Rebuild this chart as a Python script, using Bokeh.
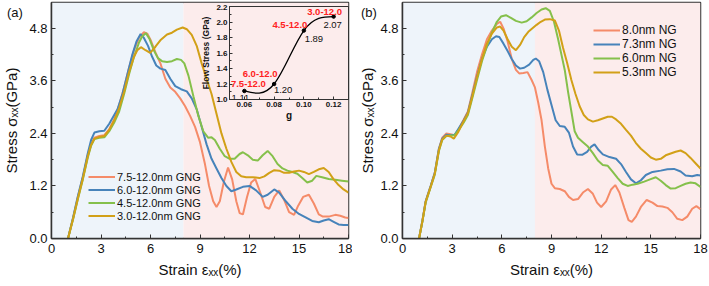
import numpy as np
from bokeh.plotting import figure
from bokeh.models import (Range1d, FixedTicker, PrintfTickFormatter, BoxAnnotation,
                          Label, Legend, LegendItem, Div)
from bokeh.layouts import row
from bokeh.embed import file_html
from bokeh.resources import INLINE

FONT = "Liberation Sans"

# ---------------- data: panel (a) ----------------
A_LABELS = ["7.5-12.0nm GNG", "6.0-12.0nm GNG", "4.5-12.0nm GNG", "3.0-12.0nm GNG"]

A_X_75 = [1.0, 1.3, 1.6, 1.9, 2.2, 2.4, 2.6, 2.9, 3.2, 3.5, 3.8, 4.1, 4.4, 4.7, 5.0, 5.3, 5.6, 5.8, 6.0, 6.3,
          6.6, 6.9, 7.2, 7.5, 7.8, 8.1, 8.4, 8.7, 9.0, 9.3, 9.55, 9.8, 10.0, 10.2, 10.45, 10.7, 10.95, 11.2,
          11.4, 11.6, 11.85, 12.1, 12.35, 12.65, 12.95, 13.2, 13.5, 13.8, 14.1, 14.4, 14.7, 14.95, 15.25,
          15.6, 15.9, 16.2, 16.45, 16.8, 17.2, 17.5, 17.8, 18.0]
A_Y_75 = [0.0, 0.45, 0.95, 1.4, 1.9, 2.15, 2.3, 2.34, 2.36, 2.5, 2.72, 3.05, 3.45, 3.9, 4.3, 4.58, 4.71, 4.68,
          4.54, 4.25, 4.0, 3.65, 3.45, 3.35, 3.2, 3.02, 2.8, 2.55, 2.2, 1.7, 1.2, 0.85, 0.72, 0.85, 1.3, 1.62,
          1.35, 0.85, 0.58, 0.55, 0.95, 1.28, 1.36, 1.05, 0.72, 0.68, 0.95, 1.1, 0.88, 0.6, 0.54, 0.75, 0.95,
          1.0, 0.8, 0.55, 0.5, 0.5, 0.54, 0.52, 0.48, 0.47]

A_X_60 = [1.0, 1.3, 1.6, 1.9, 2.2, 2.4, 2.6, 2.9, 3.2, 3.5, 3.8, 4.0, 4.3, 4.6, 4.9, 5.15, 5.4, 5.6, 5.85,
          6.1, 6.35, 6.6, 6.9, 7.2, 7.5, 7.85, 8.2, 8.5, 8.8, 9.1, 9.4, 9.7, 10.0, 10.3, 10.6, 10.9, 11.2,
          11.6, 12.0, 12.4, 12.8, 13.1, 13.5, 13.8, 14.2, 14.6, 15.0, 15.4, 15.8, 16.2, 16.5, 16.8, 17.1,
          17.4, 17.7, 18.0]
A_Y_60 = [0.0, 0.47, 0.97, 1.42, 1.95, 2.25, 2.42, 2.45, 2.46, 2.62, 2.82, 2.95, 3.3, 3.75, 4.2, 4.5, 4.67,
          4.58, 4.4, 4.15, 3.95, 3.88, 3.85, 3.65, 3.48, 3.41, 3.36, 3.2, 2.95, 2.55, 2.15, 1.82, 1.6, 1.38,
          1.2, 1.08, 1.12, 1.18, 1.2, 1.1, 0.95, 1.0, 1.12, 1.05, 0.85, 0.68, 0.56, 0.48, 0.4, 0.37, 0.41,
          0.44, 0.38, 0.32, 0.31, 0.31]

A_X_45 = [1.0, 1.3, 1.6, 1.9, 2.2, 2.4, 2.6, 2.9, 3.2, 3.5, 3.8, 4.1, 4.4, 4.7, 5.0, 5.3, 5.5, 5.72, 5.95,
          6.2, 6.45, 6.7, 7.0, 7.3, 7.6, 7.85, 8.05, 8.3, 8.6, 8.9, 9.2, 9.5, 9.7, 9.9, 10.2, 10.5, 10.8,
          11.1, 11.4, 11.6, 11.9, 12.2, 12.5, 12.8, 13.1, 13.4, 13.7, 14.0, 14.3, 14.6, 14.9, 15.2, 15.5,
          15.8, 16.05, 16.4, 16.8, 17.2, 17.6, 18.0]
A_Y_45 = [0.0, 0.43, 0.9, 1.35, 1.85, 2.12, 2.27, 2.3, 2.31, 2.45, 2.65, 2.9, 3.3, 3.75, 4.15, 4.47, 4.62,
          4.69, 4.55, 4.3, 4.12, 4.05, 4.03, 4.05, 4.1, 4.08, 4.0, 3.72, 3.25, 2.8, 2.45, 2.3, 2.31, 2.25,
          2.05, 1.88, 1.82, 1.82, 1.93, 1.97, 1.9, 1.8, 1.78, 1.9, 2.0, 1.88, 1.7, 1.6, 1.55, 1.52, 1.48,
          1.38, 1.28, 1.32, 1.43, 1.4, 1.36, 1.34, 1.32, 1.3]

A_X_30 = [1.0, 1.3, 1.6, 1.9, 2.2, 2.4, 2.6, 2.9, 3.2, 3.5, 3.8, 4.1, 4.4, 4.7, 5.0, 5.2, 5.42, 5.7, 5.98,
          6.3, 6.63, 7.0, 7.3, 7.6, 7.95, 8.2, 8.5, 8.8, 9.1, 9.4, 9.7, 10.0, 10.3, 10.6, 10.9, 11.2, 11.5,
          11.8, 12.2, 12.6, 12.9, 13.2, 13.5, 13.8, 14.1, 14.4, 14.7, 15.0, 15.3, 15.6, 15.9, 16.2, 16.5,
          16.8, 17.1, 17.4, 17.7, 18.0]
A_Y_30 = [0.0, 0.44, 0.92, 1.37, 1.88, 2.14, 2.28, 2.32, 2.34, 2.48, 2.7, 2.98, 3.35, 3.8, 4.15, 4.3, 4.37,
          4.3, 4.24, 4.38, 4.54, 4.66, 4.7, 4.77, 4.82, 4.78, 4.65, 4.4, 4.0, 3.65, 3.3, 2.85, 2.4, 2.05,
          1.75, 1.52, 1.42, 1.4, 1.4, 1.38, 1.42, 1.5, 1.56, 1.55, 1.5, 1.5, 1.53, 1.55, 1.52, 1.47, 1.52,
          1.58, 1.61, 1.52, 1.35, 1.22, 1.12, 1.05]

# ---------------- data: panel (b) ----------------
B_LABELS = ["8.0nm NG", "7.3nm NG", "6.0nm NG", "5.3nm NG"]

B_X_80 = [1.0, 1.2, 1.4, 1.7, 1.95, 2.2, 2.4, 2.65, 2.9, 3.15, 3.4, 3.7, 3.95, 4.2, 4.5, 4.8, 5.1, 5.4, 5.7,
          5.9, 6.1, 6.35, 6.6, 6.85, 7.05, 7.3, 7.55, 7.8, 8.0, 8.2, 8.4, 8.6, 8.8, 9.0, 9.2, 9.5, 9.8, 10.05,
          10.3, 10.6, 10.9, 11.2, 11.5, 11.75, 12.0, 12.3, 12.6, 12.85, 13.1, 13.4, 13.65, 13.85, 14.1, 14.4,
          14.75, 15.1, 15.4, 15.7, 16.0, 16.3, 16.6, 16.9, 17.2, 17.5, 17.75, 18.0]
B_Y_80 = [0.0, 0.4, 0.85, 1.2, 1.5, 2.05, 2.3, 2.4, 2.38, 2.36, 2.5, 2.72, 2.9, 3.3, 3.8, 4.2, 4.55, 4.75,
          4.9, 4.95, 4.8, 4.5, 4.1, 3.85, 3.77, 3.78, 3.8, 3.62, 3.45, 3.1, 2.7, 2.1, 1.6, 1.25, 1.15, 1.13,
          1.08, 0.95, 0.88, 0.9, 1.05, 1.13, 1.02, 0.82, 0.72, 0.85, 1.12, 1.22, 1.05, 0.7, 0.42, 0.38, 0.5,
          0.72, 0.88, 0.82, 0.74, 0.73, 0.7, 0.6, 0.45, 0.42, 0.5, 0.68, 0.74, 0.67]

B_X_73 = [1.0, 1.2, 1.4, 1.7, 1.95, 2.2, 2.4, 2.65, 2.9, 3.15, 3.4, 3.7, 3.95, 4.2, 4.5, 4.8, 5.1, 5.4, 5.65,
          5.85, 6.1, 6.35, 6.6, 6.85, 7.1, 7.35, 7.65, 7.9, 8.05, 8.25, 8.5, 8.75, 9.0, 9.25, 9.5, 9.8, 10.05,
          10.3, 10.55, 10.85, 11.15, 11.4, 11.6, 11.85, 12.1, 12.5, 12.9, 13.2, 13.5, 13.8, 14.1, 14.4, 14.7,
          15.1, 15.6, 16.0, 16.4, 16.8, 17.1, 17.5, 17.8, 18.0]
B_Y_73 = [0.0, 0.4, 0.85, 1.2, 1.5, 2.05, 2.28, 2.37, 2.36, 2.37, 2.52, 2.7, 2.88, 3.25, 3.7, 4.1, 4.38,
          4.55, 4.62, 4.6, 4.45, 4.28, 4.1, 3.95, 3.88, 3.9, 3.97, 4.08, 4.11, 4.05, 3.8, 3.4, 3.05, 2.7,
          2.57, 2.55, 2.42, 2.1, 1.92, 1.91, 1.98, 2.1, 2.15, 2.02, 1.92, 1.86, 1.82, 1.7, 1.52, 1.35, 1.26,
          1.33, 1.45, 1.52, 1.55, 1.58, 1.59, 1.53, 1.44, 1.42, 1.45, 1.44]

B_X_60 = [1.0, 1.2, 1.4, 1.7, 1.95, 2.2, 2.4, 2.65, 2.9, 3.15, 3.4, 3.7, 3.95, 4.2, 4.5, 4.8, 5.1, 5.4, 5.7,
          5.95, 6.25, 6.55, 6.85, 7.2, 7.5, 7.8, 8.1, 8.4, 8.65, 8.9, 9.15, 9.4, 9.6, 9.8, 10.0, 10.2, 10.4,
          10.6, 10.9, 11.2, 11.5, 11.8, 12.1, 12.4, 12.7, 13.0, 13.3, 13.6, 13.9, 14.2, 14.6, 14.95, 15.3,
          15.6, 15.9, 16.2, 16.5, 16.8, 17.1, 17.4, 17.7, 18.0]
B_Y_60 = [0.0, 0.38, 0.82, 1.17, 1.46, 2.0, 2.25, 2.34, 2.35, 2.36, 2.48, 2.65, 2.82, 3.18, 3.62, 4.05,
          4.4, 4.7, 4.95, 5.07, 5.1, 5.04, 4.97, 4.93, 4.96, 5.05, 5.15, 5.23, 5.26, 5.2, 4.95, 4.55, 4.2,
          3.85, 3.35, 2.9, 2.45, 2.3, 2.2, 2.1, 1.95, 1.78, 1.68, 1.66, 1.52, 1.38, 1.25, 1.2, 1.23, 1.25,
          1.3, 1.35, 1.4, 1.32, 1.22, 1.14, 1.15, 1.2, 1.25, 1.28, 1.26, 1.18]

B_X_53 = [1.0, 1.2, 1.4, 1.7, 1.95, 2.2, 2.4, 2.65, 2.9, 3.1, 3.35, 3.65, 3.95, 4.2, 4.5, 4.8, 5.1, 5.4, 5.7,
          5.9, 6.1, 6.35, 6.6, 6.85, 7.1, 7.35, 7.6, 7.85, 8.1, 8.35, 8.6, 8.9, 9.2, 9.45, 9.7, 9.95, 10.2,
          10.45, 10.7, 10.95, 11.2, 11.5, 11.8, 12.1, 12.4, 12.65, 12.9, 13.2, 13.5, 13.8, 14.1, 14.4, 14.7,
          15.0, 15.3, 15.6, 15.9, 16.2, 16.5, 16.8, 17.1, 17.4, 17.7, 18.0]
B_Y_53 = [0.0, 0.39, 0.84, 1.18, 1.48, 2.02, 2.26, 2.35, 2.33, 2.28, 2.42, 2.65, 2.86, 3.22, 3.68, 4.1,
          4.45, 4.68, 4.82, 4.84, 4.75, 4.55, 4.38, 4.3, 4.42, 4.6, 4.72, 4.8, 4.88, 4.95, 5.0, 5.01, 4.98,
          4.75, 4.35, 4.0, 3.62, 3.3, 3.02, 2.82, 2.72, 2.67, 2.7, 2.74, 2.78, 2.78, 2.72, 2.62, 2.48, 2.35,
          2.18, 2.05, 1.95, 1.85, 1.8, 1.82, 1.9, 1.94, 1.98, 2.01, 1.95, 1.84, 1.72, 1.6]

# ---------------- data: inset ----------------
INSET_G = [0.06, 0.08, 0.10, 0.12]
INSET_FLOW = [1.11, 1.20, 1.89, 2.07]
INSET_NAMES = ["7.5-12.0", "6.0-12.0", "4.5-12.0", "3.0-12.0"]

# ---------------- axes / ticks ----------------
X_RANGE = (0, 18)
Y_RANGE = (0, 5.39)
X_TICKS = [0, 3, 6, 9, 12, 15, 18]
X_MINOR = [1.5, 4.5, 7.5, 10.5, 13.5, 16.5]
Y_TICKS = [0.0, 1.2, 2.4, 3.6, 4.8]
Y_MINOR = [0.6, 1.8, 3.0, 4.2]
REGION_SPLIT = 8
IN_X_RANGE = (0.05, 0.13)
IN_Y_RANGE = (1.0, 2.2)
IN_X_TICKS = [0.06, 0.08, 0.10, 0.12]
IN_X_MINOR = [0.05, 0.07, 0.09, 0.11, 0.13]
IN_Y_TICKS = [1.0, 1.2, 1.4, 1.6, 1.8, 2.0, 2.2]
IN_Y_MINOR = [1.1, 1.3, 1.5, 1.7, 1.9, 2.1]

COLORS = ["#F58B69", "#4783BA", "#85C04B", "#D2A017"]
BLUE_BG = "#EEF4FA"
PINK_BG = "#FCECEC"
AXIS_COLOR = "#333333"
FIG_H = 285


def style_axes(p, tick_font, label_font):
    p.xgrid.visible = False
    p.ygrid.visible = False
    p.outline_line_color = AXIS_COLOR
    p.outline_line_width = 1.5
    p.outline_line_alpha = 1.0
    for ax in (p.xaxis[0], p.yaxis[0]):
        ax.axis_line_color = AXIS_COLOR
        ax.axis_line_width = 1.5
        ax.major_tick_in = 4
        ax.major_tick_out = 0
        ax.minor_tick_in = 2
        ax.minor_tick_out = 0
        ax.major_tick_line_color = AXIS_COLOR
        ax.minor_tick_line_color = AXIS_COLOR
        ax.major_label_text_font = FONT
        ax.major_label_text_font_size = tick_font
        ax.major_label_text_color = "#111111"
        ax.axis_label_text_font = FONT
        ax.axis_label_text_font_size = label_font
        ax.axis_label_text_font_style = "normal"
        ax.axis_label_text_color = "#111111"


def main_panel(width, mb_left, mb_right, y_title_standoff, xs_list, ys_list, labels, legend_loc,
               legend_font, row_h):
    p = figure(width=width, height=FIG_H, x_range=Range1d(*X_RANGE), y_range=Range1d(*Y_RANGE),
               min_border_left=mb_left, min_border_right=mb_right, min_border_top=2,
               min_border_bottom=47, output_backend="svg", toolbar_location=None,
               background_fill_color="white", border_fill_color="white")
    p.add_layout(BoxAnnotation(right=REGION_SPLIT, fill_color=BLUE_BG, fill_alpha=1.0,
                               line_alpha=0, level="underlay"))
    p.add_layout(BoxAnnotation(left=REGION_SPLIT, fill_color=PINK_BG, fill_alpha=1.0,
                               line_alpha=0, level="underlay"))
    style_axes(p, "13px", "15px")
    p.xaxis.major_label_standoff = 5
    p.xaxis.axis_label_standoff = 5
    p.yaxis.major_label_standoff = 4
    p.yaxis.axis_label_standoff = y_title_standoff
    p.xaxis.ticker = FixedTicker(ticks=X_TICKS, minor_ticks=X_MINOR)
    p.yaxis.ticker = FixedTicker(ticks=Y_TICKS, minor_ticks=Y_MINOR)
    p.yaxis.formatter = PrintfTickFormatter(format="%.1f")
    p.xaxis.axis_label = "Strain \u03b5\u2093\u2093(%)"
    p.yaxis.axis_label = "Stress \u03c3\u2093\u2093(GPa)"
    items = []
    for xs, ys, c, lab in zip(xs_list, ys_list, COLORS, labels):
        r = p.line(xs, ys, line_color=c, line_width=2)
        items.append(LegendItem(label=lab, renderers=[r]))
    leg = Legend(items=items, location=legend_loc, label_text_font=FONT,
                 label_text_font_size=legend_font, glyph_width=27, glyph_height=row_h,
                 label_height=row_h, spacing=0, padding=0, margin=0, label_standoff=2,
                 background_fill_alpha=0, border_line_alpha=0, label_text_color="#111111")
    p.add_layout(leg)
    return p


p_a = main_panel(352, 51, 4, 6, [A_X_75, A_X_60, A_X_45, A_X_30], [A_Y_75, A_Y_60, A_Y_45, A_Y_30],
                 A_LABELS, (37, 16), "11px", 13)
p_b = main_panel(356, 50, 8, 1, [B_X_80, B_X_73, B_X_60, B_X_53], [B_Y_80, B_Y_73, B_Y_60, B_Y_53],
                 B_LABELS, (191, 159), "12px", 14)

# ---------------- inset ----------------
p_in = figure(frame_width=119, frame_height=93, x_range=Range1d(*IN_X_RANGE),
              y_range=Range1d(*IN_Y_RANGE),
              min_border_left=30, min_border_right=1, min_border_top=2, min_border_bottom=20,
              output_backend="svg", toolbar_location=None,
              background_fill_alpha=0, border_fill_alpha=0)
style_axes(p_in, "8px", "9px")
for ax in (p_in.xaxis[0], p_in.yaxis[0]):
    ax.major_label_text_font_style = "bold"
    ax.axis_label_text_font_style = "bold"
    ax.major_tick_in = 3
    ax.minor_tick_in = 2
    ax.axis_line_width = 1
    ax.major_label_standoff = 2
    ax.axis_label_standoff = 2
p_in.xaxis.major_label_standoff = 2
p_in.xaxis.axis_label_standoff = 0
p_in.outline_line_width = 1
p_in.xaxis.ticker = FixedTicker(ticks=IN_X_TICKS, minor_ticks=IN_X_MINOR)
p_in.yaxis.ticker = FixedTicker(ticks=IN_Y_TICKS, minor_ticks=IN_Y_MINOR)
p_in.xaxis.formatter = PrintfTickFormatter(format="%.2f")
p_in.yaxis.formatter = PrintfTickFormatter(format="%.1f")
p_in.xaxis.axis_label = "g"
p_in.xaxis.axis_label_text_font_size = "10px"
p_in.yaxis.axis_label = "Flow Stress (GPa)"
p_in.yaxis.axis_label_text_font_size = "8.5px"


def natural_spline_bezier(xs, ys):
    xs = np.asarray(xs, float)
    ys = np.asarray(ys, float)
    n = len(xs) - 1
    h = np.diff(xs)
    A = np.zeros((n + 1, n + 1))
    b = np.zeros(n + 1)
    A[0, 0] = 1
    A[n, n] = 1
    for i in range(1, n):
        A[i, i - 1] = h[i - 1]
        A[i, i] = 2 * (h[i - 1] + h[i])
        A[i, i + 1] = h[i]
        b[i] = 6 * ((ys[i + 1] - ys[i]) / h[i] - (ys[i] - ys[i - 1]) / h[i - 1])
    M = np.linalg.solve(A, b)
    m = np.zeros(n + 1)
    for i in range(n):
        m[i] = (ys[i + 1] - ys[i]) / h[i] - h[i] * (2 * M[i] + M[i + 1]) / 6
    m[n] = (ys[n] - ys[n - 1]) / h[n - 1] + h[n - 1] * (M[n - 1] + 2 * M[n]) / 6
    return dict(x0=xs[:-1], y0=ys[:-1], x1=xs[1:], y1=ys[1:],
                cx0=xs[:-1] + h / 3, cy0=ys[:-1] + m[:-1] * h / 3,
                cx1=xs[1:] - h / 3, cy1=ys[1:] - m[1:] * h / 3)


bz = natural_spline_bezier(INSET_G, INSET_FLOW)
p_in.bezier(x0=bz["x0"], y0=bz["y0"], x1=bz["x1"], y1=bz["y1"], cx0=bz["cx0"], cy0=bz["cy0"],
            cx1=bz["cx1"], cy1=bz["cy1"], line_color="black", line_width=1.3)
p_in.scatter(INSET_G, INSET_FLOW, size=3.5, color="black")

NAME_OFFSETS = [(4, 7), (-14, 10), (-14, 6), (-9, 5)]
VALUE_OFFSETS = [(-4, -7), (9, -6), (10, -8), (-1, -8)]
for g, f, nm, (nx, ny), (vx, vy) in zip(INSET_G, INSET_FLOW, INSET_NAMES, NAME_OFFSETS, VALUE_OFFSETS):
    p_in.add_layout(Label(x=g, y=f, x_offset=nx, y_offset=ny, text=nm, text_font=FONT,
                          text_font_size="9.5px", text_font_style="bold", text_color="#FF2222",
                          text_align="center", text_baseline="middle"))
    p_in.add_layout(Label(x=g, y=f, x_offset=vx, y_offset=vy, text="%.2f" % f, text_font=FONT,
                          text_font_size="9.5px", text_color="#111111",
                          text_align="center", text_baseline="middle"))

p_in.styles = {"position": "absolute", "left": "198px", "top": "4px"}

TAG_STYLE = {"font-family": FONT, "font-size": "13px", "color": "#111111", "line-height": "15px"}
tag_a = Div(text="(a)", width=24, height=16,
            styles=dict(TAG_STYLE, position="absolute", left="2px", top="0px"))
tag_b = Div(text="(b)", width=24, height=16,
            styles=dict(TAG_STYLE, position="absolute", left="356px", top="0px"))

layout = row(p_a, p_b, p_in, tag_a, tag_b)
open("out.html", "w").write(file_html(layout, INLINE))
